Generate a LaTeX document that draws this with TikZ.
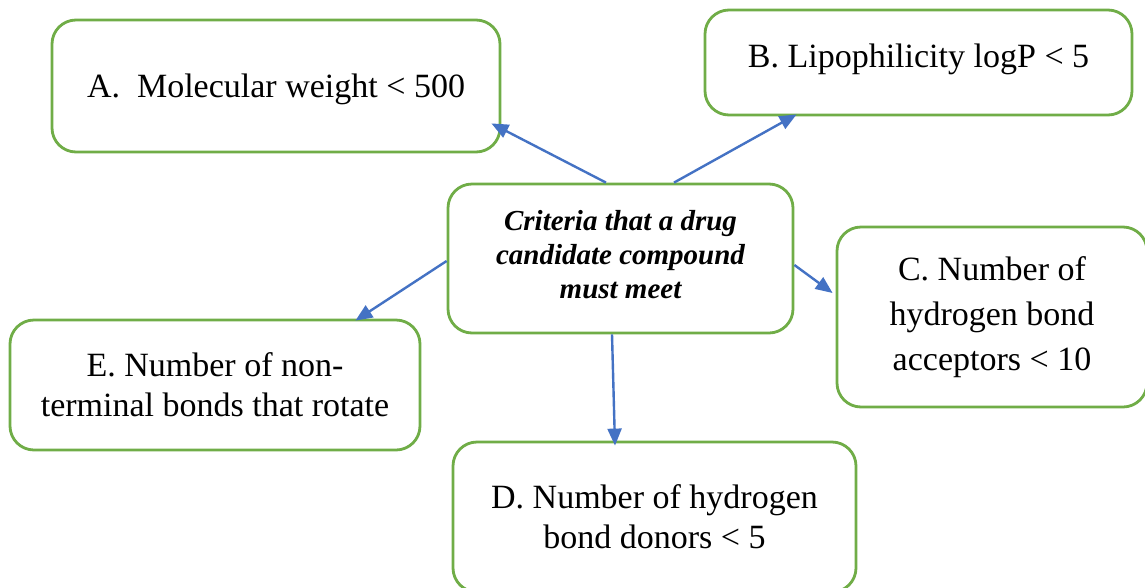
\documentclass[tikz,border=0pt]{standalone}
\usepackage{fontspec}
\setmainfont{Liberation Serif}
\usetikzlibrary{arrows.meta}
\definecolor{boxgreen}{RGB}{112,173,71}
\definecolor{arrblue}{RGB}{68,114,196}
\begin{document}
\begin{tikzpicture}[x=1pt,y=-1pt,
  crit/.style={draw=boxgreen,line width=2.8pt,rounded corners=24pt,inner sep=0pt,align=center,fill=white},
  big/.style={font=\fontsize{34}{45}\selectfont},
  mid/.style={font=\fontsize{34}{40}\selectfont},
  conn/.style={draw=arrblue,line width=2.4pt,-{Triangle[length=17pt,width=14pt]}}]
\useasboundingbox (0,0) rectangle (1145,587);
\fill[white] (0,0) rectangle (1145,587);
\node[crit,big,minimum width=448pt,minimum height=132pt,text depth=1pt] (A) at (276,86) {A.\ \ Molecular weight < 500};
\node[crit,big,minimum width=427pt,minimum height=105pt,text depth=14pt] (B) at (918.5,62.5) {B. Lipophilicity logP < 5};
\node[crit,minimum width=345pt,minimum height=149pt,
  label={[yshift=4pt,align=center,font=\fontsize{29}{34}\selectfont\bfseries\itshape]center:Criteria that a drug\\candidate compound\\must meet}] (M) at (620.5,258.5) {};
\node[crit,big,minimum width=310pt,minimum height=180pt] (C) at (992,317) {C. Number of\\hydrogen bond\\acceptors < 10};
\node[crit,mid,minimum width=410pt,minimum height=130pt] (E) at (215,385) {E. Number of non-\\terminal bonds that rotate};
\node[crit,mid,minimum width=403pt,minimum height=150pt] (D) at (654.5,517) {D. Number of hydrogen\\bond donors < 5};
\draw[conn] ([xshift=-14.5pt]M.north) -- ([xshift=-10pt,yshift=30pt]A.south east);
\draw[conn] ([xshift=53.5pt]M.north) -- ([xshift=93pt,yshift=2pt]B.south west);
\draw[conn] ([yshift=-6.5pt]M.east) -- ([xshift=-3pt,yshift=24pt]C.west);
\draw[conn] ([xshift=-8.5pt]M.south) -- ([xshift=-39.5pt,yshift=-5pt]D.north);
\draw[conn] ([yshift=-2.5pt]M.west) -- ([xshift=-66pt,yshift=-2pt]E.north east);
\end{tikzpicture}
\end{document}
